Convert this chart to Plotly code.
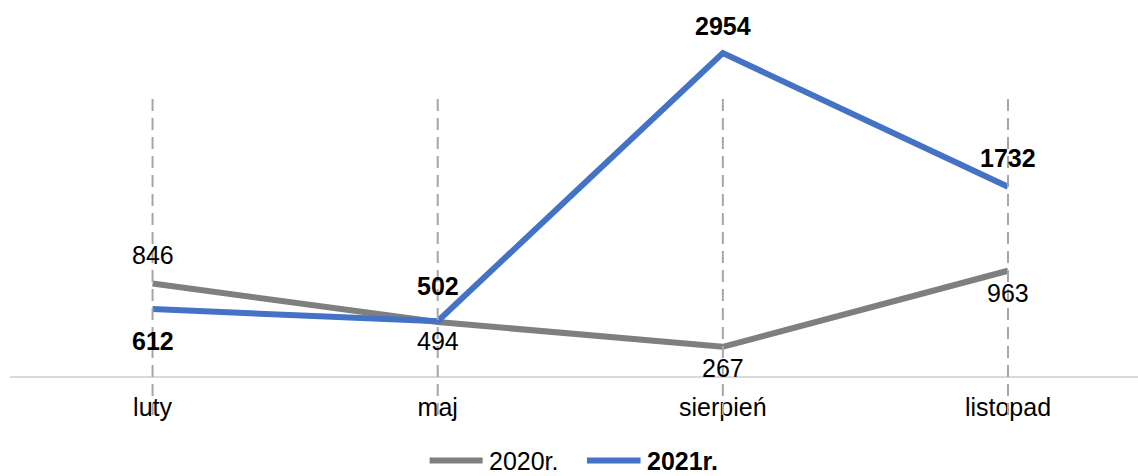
import plotly.graph_objects as go

# Months and counts per year
months = ["luty", "maj", "sierpień", "listopad"]
values_2020 = [846, 494, 267, 963]
values_2021 = [612, 502, 2954, 1732]
series_names = ["2020r.", "2021r."]

# Styling
GRAY = "#7f7f7f"
BLUE = "#4472c4"
FONT = "Liberation Sans, Arial, sans-serif"
FONT_SIZE = 25
LINE_W = 6

# Vertical offsets (px) of each data label relative to its point
label_shift_2020 = [29, -19, -21, -22]
label_shift_2021 = [-32, 35, 27, 29]

xs = list(range(len(months)))

fig = go.Figure()
fig.add_trace(go.Scatter(x=xs, y=values_2020, mode="lines", name=series_names[0],
                         line=dict(color=GRAY, width=LINE_W), showlegend=False))
fig.add_trace(go.Scatter(x=xs, y=values_2021, mode="lines", name=series_names[1],
                         line=dict(color=BLUE, width=LINE_W), showlegend=False))

annotations = []
for x, v, s in zip(xs, values_2020, label_shift_2020):
    annotations.append(dict(x=x, y=v, xref="x", yref="y", text=str(v), showarrow=False,
                            yshift=s, yanchor="middle",
                            font=dict(family=FONT, size=FONT_SIZE, color="black")))
for x, v, s in zip(xs, values_2021, label_shift_2021):
    annotations.append(dict(x=x, y=v, xref="x", yref="y", text=str(v), showarrow=False,
                            yshift=s, yanchor="middle",
                            font=dict(family=FONT, size=FONT_SIZE, color="black", weight="bold")))

# Dashed vertical guides at each category
shapes = []
for x in xs:
    shapes.append(dict(type="line", xref="x", yref="paper", x0=x, x1=x, y0=-0.104, y1=0.747,
                       line=dict(color="#a6a6a6", width=2, dash="12px,7px"), layer="above"))

# Legend drawn beneath the chart
legend_y = -0.225
legend_items = [
    (0.372, 0.419, 0.423, GRAY, series_names[0], "normal"),
    (0.5115, 0.559, 0.563, BLUE, series_names[1], "bold"),
]
for x0, x1, tx, col, name, weight in legend_items:
    shapes.append(dict(type="line", xref="paper", yref="paper", x0=x0, x1=x1,
                       y0=legend_y, y1=legend_y, line=dict(color=col, width=LINE_W)))
    annotations.append(dict(x=tx, y=legend_y, xref="paper", yref="paper", text=name,
                            showarrow=False, xanchor="left", yanchor="middle",
                            font=dict(family=FONT, size=FONT_SIZE, color="black", weight=weight)))

fig.update_layout(
    width=1138, height=476,
    margin=dict(l=10, r=0, t=0, b=100),
    paper_bgcolor="white", plot_bgcolor="white",
    showlegend=False,
    shapes=shapes,
    annotations=annotations,
    font=dict(family=FONT, size=FONT_SIZE, color="black"),
    xaxis=dict(range=[-0.5, 3.456], tickmode="array", tickvals=xs, ticktext=months,
               showgrid=False, zeroline=False, showline=True, linecolor="#d9d9d9",
               linewidth=2, ticks="", ticklabelstandoff=8,
               tickfont=dict(family=FONT, size=FONT_SIZE, color="black")),
    yaxis=dict(range=[0, 3440], visible=False, showgrid=False, zeroline=False),
)

fig.write_html("out.html")
